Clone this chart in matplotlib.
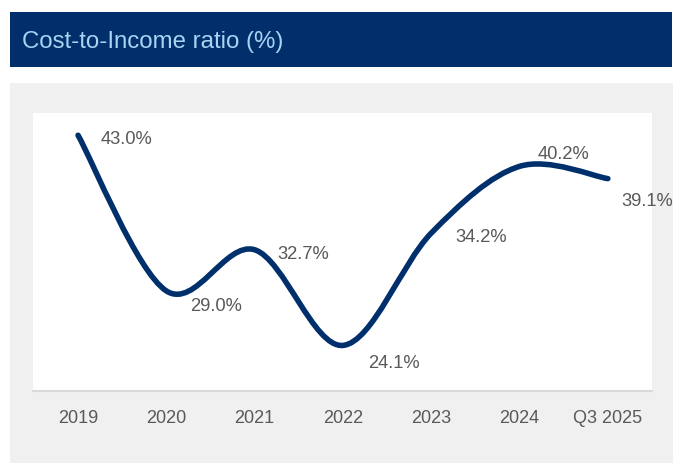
import matplotlib.pyplot as plt
import numpy as np
from matplotlib.path import Path
from matplotlib.patches import PathPatch, Rectangle

plt.rcParams['font.family'] = ['Liberation Sans', 'DejaVu Sans']

# Cost-to-income ratio per period
periods = ['2019', '2020', '2021', '2022', '2023', '2024', 'Q3 2025']
ratio = [43.0, 29.0, 32.7, 24.1, 34.2, 40.2, 39.1]
# label offsets in points (dx, dy) relative to each point
label_offsets = [(16, -2), (17.3, -10.5), (16.6, -2.8), (18, -12), (17.3, -2.2), (13, 9.4), (10, -15.6)]

navy = '#00306c'
label_grey = '#595959'

fig = plt.figure(figsize=(6.73, 4.64), dpi=100)
W, H = 673, 464

# header bar and grey panel behind the axes
fig.patches.append(Rectangle((10 / W, 1 - 68 / H), 662 / W, 55 / H, transform=fig.transFigure,
                             facecolor='#002f6b', edgecolor='none', zorder=-10))
fig.patches.append(Rectangle((10 / W, 0), 663 / W, 1 - 84 / H, transform=fig.transFigure,
                             facecolor='#f0f0f0', edgecolor='none', zorder=-10))
fig.text(22 / W, 1 - 42 / H, 'Cost-to-Income ratio (%)', color='#a8d3f3', fontsize=17.3,
         va='center', ha='left')

ax = fig.add_axes([33 / W, (H - 392) / H, (652 - 33) / W, (392 - 114) / H])
ax.set_zorder(1)
ax.set_facecolor('white')
ax.set_xlim(-0.51, 6.5)
ax.set_ylim(20, 45)

# smoothed line: Catmull-Rom style cubic Bezier segments
x = np.arange(len(ratio), dtype=float)
y = np.array(ratio)
pts = np.column_stack([x, y])
verts = [pts[0]]
codes = [Path.MOVETO]
n = len(pts)
for i in range(n - 1):
    p0 = pts[i - 1] if i > 0 else pts[i]
    p1 = pts[i]
    p2 = pts[i + 1]
    p3 = pts[i + 2] if i + 2 < n else pts[i + 1]
    c1 = p1 + (p2 - p0) / 6
    c2 = p2 - (p3 - p1) / 6
    verts += [c1, c2, p2]
    codes += [Path.CURVE4] * 3
ax.add_patch(PathPatch(Path(verts, codes), facecolor='none', edgecolor=navy,
                       lw=4, capstyle='round', joinstyle='round'))

for xi, yi, (dx, dy) in zip(x, ratio, label_offsets):
    ax.annotate(f'{yi:.1f}%', (xi, yi), xytext=(dx, dy), textcoords='offset points',
                ha='left', va='center', fontsize=13.2, color=label_grey)

ax.set_xticks(x)
ax.set_xticklabels(periods, fontsize=13, color=label_grey)
ax.set_yticks([])
ax.tick_params(axis='x', length=0, pad=13)
for side in ['top', 'left', 'right']:
    ax.spines[side].set_visible(False)
ax.spines['bottom'].set_color('#d9d9d9')
ax.spines['bottom'].set_linewidth(1.5)

fig.savefig('out.png', dpi=100, facecolor='white')
